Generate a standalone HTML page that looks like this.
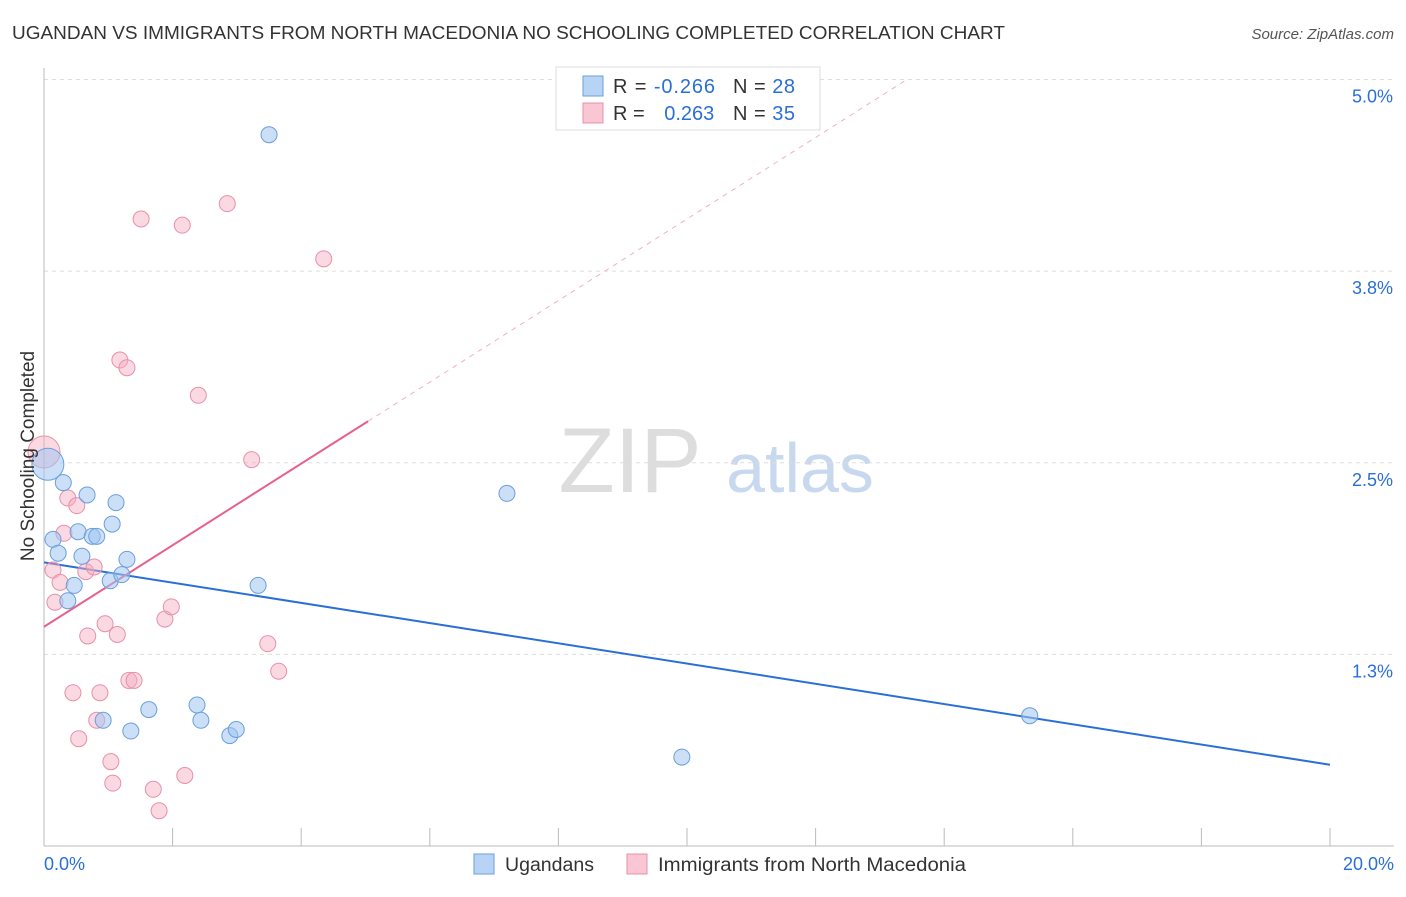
<!DOCTYPE html>
<html><head><meta charset="utf-8"><style>
body{margin:0;background:#fff;font-family:"Liberation Sans",sans-serif;}
svg text{font-family:"Liberation Sans",sans-serif;}
</style></head><body>
<svg id="c" width="1406" height="892">
<text x="12" y="39" font-size="18" fill="#333" textLength="993" lengthAdjust="spacingAndGlyphs">UGANDAN VS IMMIGRANTS FROM NORTH MACEDONIA NO SCHOOLING COMPLETED CORRELATION CHART</text>
<text x="1394" y="39" font-size="15" fill="#555" font-style="italic" text-anchor="end">Source: ZipAtlas.com</text>
<text x="630" y="492" font-size="92" fill="#ddd" font-family="Liberation Serif" text-anchor="middle">ZIP</text>
<text x="800" y="492" font-size="70" fill="#c8d8ef" text-anchor="middle">atlas</text>
<g id="grid"></g>
<g id="axes"></g>
<g id="lines"></g>
<g id="pts"></g>
<text transform="translate(34,456) rotate(-90)" font-size="19" fill="#333" text-anchor="middle">No Schooling Completed</text>
<g>
<rect x="556" y="67" width="264" height="63" fill="#fff" stroke="#ddd"/>
<rect x="583" y="76" width="20" height="20" fill="#b8d4f5" stroke="#6a9fdc"/>
<rect x="583" y="103" width="20" height="20" fill="#f9c6d4" stroke="#e890a8"/>
<text x="613" y="93" font-size="20" fill="#333" textLength="102" lengthAdjust="spacing">R = <tspan fill="#2a6fd6">-0.266</tspan></text>
<text x="733" y="93" font-size="20" fill="#333" textLength="62" lengthAdjust="spacing">N = <tspan fill="#2a6fd6">28</tspan></text>
<text x="613" y="120" font-size="20" fill="#333">R = <tspan fill="#2a6fd6" dx="14">0.263</tspan></text>
<text x="733" y="120" font-size="20" fill="#333" textLength="62" lengthAdjust="spacing">N = <tspan fill="#2a6fd6">35</tspan></text>
</g>
<g>
<rect x="474" y="854" width="20" height="20" fill="#b8d4f5" stroke="#6a9fdc"/>
<text x="505" y="871" font-size="19" fill="#333" textLength="89" lengthAdjust="spacingAndGlyphs">Ugandans</text>
<rect x="627" y="854" width="20" height="20" fill="#f9c6d4" stroke="#e890a8"/>
<text x="658" y="871" font-size="19" fill="#333" textLength="308" lengthAdjust="spacingAndGlyphs">Immigrants from North Macedonia</text>
</g>
</svg>
<script>
const yTicks=[1.25,2.5,3.75,5.0];
const yTickLabels=["1.3%","2.5%","3.8%","5.0%"];
const xTickValues=[0,2,4,6,8,10,12,14,16,18,20];
const xEndLabels=["0.0%","20.0%"];
const blueX=[0.06,0.14,0.22,0.30,0.37,0.47,0.53,0.59,0.67,0.75,0.82,0.92,1.03,1.06,1.12,1.21,1.29,1.35,1.63,2.38,2.44,2.89,2.99,3.33,3.50,7.20,9.92,15.33];
const blueY=[2.49,2.00,1.91,2.37,1.60,1.70,2.05,1.89,2.29,2.02,2.02,0.82,1.73,2.10,2.24,1.77,1.87,0.75,0.89,0.92,0.82,0.72,0.76,1.70,4.64,2.30,0.58,0.85];
const pinkX=[0,0.14,0.17,0.25,0.31,0.37,0.45,0.51,0.54,0.65,0.68,0.78,0.82,0.87,0.95,1.04,1.07,1.14,1.18,1.29,1.32,1.40,1.51,1.70,1.79,1.88,1.98,2.15,2.19,2.40,2.85,3.23,3.48,3.65,4.35];
const pinkY=[2.57,1.80,1.59,1.72,2.04,2.27,1.00,2.22,0.70,1.79,1.37,1.82,0.82,1.00,1.45,0.55,0.41,1.38,3.17,3.12,1.08,1.08,4.09,0.37,0.23,1.48,1.56,4.05,0.46,2.94,4.19,2.52,1.32,1.14,3.83];
const blueLine=[1.85,0.53]; // values at x=0 and x=20
const pinkLine=[1.43,0.266]; // intercept, slope
const NS="http://www.w3.org/2000/svg";
const X=v=>44+v*64.3, Y=v=>846-v*153.3;
function mk(t,a,p){const e=document.createElementNS(NS,t);for(const k in a)e.setAttribute(k,a[k]);p.appendChild(e);return e;}
const grid=document.getElementById('grid'),axes=document.getElementById('axes');
yTicks.forEach((v,i)=>{
 const l=mk('line',{x1:44,x2:1394,y1:Y(v),y2:Y(v),stroke:'#ddd','stroke-dasharray':'4,4'},grid);
 
 
 const t=mk('text',{x:1393,y:Y(v)+23,'font-size':18,fill:'#2a6fd6','text-anchor':'end'},axes);
 t.textContent=yTickLabels[i];
 
 
});
const ax=mk('line',{x1:44,x2:1394,y1:846,y2:846,stroke:'#bbb'},axes);


const ay=mk('line',{x1:44,x2:44,y1:68,y2:846,stroke:'#bbb'},axes);


xTickValues.forEach(v=>{
 const t=mk('line',{x1:X(v),x2:X(v),y1:828,y2:846,stroke:'#bbb'},axes);
 
 
});
[[0,'start',44],[20,'end',1394]].forEach((o,i)=>{
 const t=mk('text',{x:o[2],y:870,'font-size':18,fill:'#2a6fd6','text-anchor':o[1]},axes);
 t.textContent=xEndLabels[i];
 
 
});
const lines=document.getElementById('lines');
const bl=mk('line',{x1:X(0),y1:Y(blueLine[0]),x2:X(20),y2:Y(blueLine[1]),stroke:'#2a6fd6','stroke-width':2},lines);


const pEnd=(5-pinkLine[0])/pinkLine[1];
const pd=mk('line',{x1:X(5.04),y1:Y(pinkLine[0]+pinkLine[1]*5.04),x2:X(pEnd),y2:Y(5),stroke:'#f0b0c4','stroke-width':1,'stroke-dasharray':'5,5'},lines);


const ps=mk('line',{x1:X(0),y1:Y(pinkLine[0]),x2:X(5.04),y2:Y(pinkLine[0]+pinkLine[1]*5.04),stroke:'#e8608c','stroke-width':2},lines);


const pts=document.getElementById('pts');
pinkX.forEach((x,i)=>{
 const c=mk('circle',{cx:X(x),cy:Y(pinkY[i]),r:i==0?16:8,fill:'rgba(245,170,192,0.45)',stroke:'#e890a8','stroke-width':1},pts);
 
 
});
blueX.forEach((x,i)=>{
 const c=mk('circle',{cx:X(x),cy:Y(blueY[i]),r:i==0?16:8,fill:'rgba(160,196,240,0.55)',stroke:'#6a9fdc','stroke-width':1},pts);
 
 
});
</script>
</body></html>
